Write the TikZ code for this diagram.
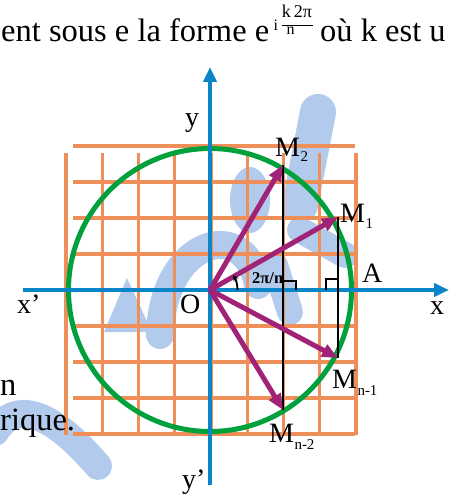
\documentclass[tikz,border=0pt]{standalone}
\usepackage{fontspec}
\setmainfont{Liberation Serif}
\usetikzlibrary{arrows.meta}
\definecolor{gridor}{RGB}{238,143,90}
\definecolor{circgreen}{RGB}{0,160,60}
\definecolor{axisblue}{RGB}{10,133,200}
\definecolor{vecpurple}{RGB}{160,35,120}
\definecolor{wmblue}{RGB}{178,202,236}
\begin{document}
\begin{tikzpicture}[x=1pt,y=-1pt,
  wm/.style={draw=wmblue,line cap=round},
  wmfill/.style={fill=wmblue,draw=none},
  gridline/.style={draw=gridor,line width=3.4pt},
  circ/.style={draw=circgreen,line width=5pt},
  axisline/.style={draw=axisblue,line width=4.2pt,-{Triangle[length=15pt,width=13pt]}},
  blk/.style={draw=black,line width=2pt},
  rightmark/.style={draw=black,line width=1.8pt},
  vec/.style={draw=vecpurple,line width=5pt,-{Triangle[length=16pt,width=13pt]}},
  lab/.style={font=\fontsize{28}{30}\selectfont,inner sep=0pt},
  sublab/.style={font=\fontsize{15}{17}\selectfont,inner sep=0pt},
  body/.style={font=\fontsize{32.5}{36}\selectfont,inner sep=0pt},
  supx/.style={font=\fontsize{16}{18}\selectfont,inner sep=0pt},
  anglab/.style={font=\fontsize{16.5}{18}\selectfont\bfseries,inner sep=0pt}]
\useasboundingbox (0,0) rectangle (452,497);
\clip (0,0) rectangle (452,497);
% watermark (faint background shapes)
\coordinate (wa1) at (-5,432);
\coordinate (wa2) at (98,466);
\draw[wm,line width=28pt] (wa1) .. controls (15,400) and (50,410) .. (wa2);
\coordinate (wb1) at (160,335);
\coordinate (wb2) at (258,285);
\draw[wm,line width=28pt] (wb1) .. controls (162,240) and (245,215) .. (wb2);
\coordinate (wl1) at (127,278);
\coordinate (wl2) at (152,332);
\coordinate (wl3) at (104,332);
\fill[wmfill] (wl1) -- (wl2) -- (wl3) -- cycle;
\coordinate (wd1) at (318,112);
\coordinate (wd2) at (300,205);
\draw[wm,line width=36pt] (wd1) -- (wd2);
\coordinate (we) at (250,200);
\fill[wmfill] (we) ellipse[x radius=20,y radius=33];
\coordinate (wc1) at (300,230);
\coordinate (wc2) at (345,255);
\draw[wm,line width=26pt] (wc1) -- (wc2);
\coordinate (wf1) at (275,265);
\coordinate (wf2) at (290,312);
\draw[wm,line width=26pt] (wf1) -- (wf2);
% grid
\foreach \k in {0,...,8} {
  \draw[gridline] (73,{146+36*\k}) -- (355,{146+36*\k});
  \draw[gridline] ({66+36.25*\k},153) -- ({66+36.25*\k},435);
}
% circle
\coordinate (O) at (210,290);
\draw[circ] (O) circle[radius=141.5];
% axes
\coordinate (xl) at (23,290);
\coordinate (xr) at (449,290);
\coordinate (yt) at (210,67);
\coordinate (yb) at (210,485);
\draw[axisline] (xl) -- (xr);
\draw[axisline] (yb) -- (yt);
% points
\coordinate (M1) at (338,217);
\coordinate (M2) at (283,165);
\coordinate (Mn1) at (338,358);
\coordinate (Mn2) at (283,410);
% vertical black lines
\draw[blk] (M2) -- (Mn2);
\draw[blk] (M1) -- (Mn1);
% right angle marks
\coordinate (ra1) at (283,281);
\coordinate (ra2) at (296,281);
\coordinate (ra3) at (296,290);
\draw[rightmark] (ra1) -- (ra2) -- (ra3);
\coordinate (rb1) at (338,279);
\coordinate (rb2) at (326,279);
\coordinate (rb3) at (326,290);
\draw[rightmark] (rb1) -- (rb2) -- (rb3);
% vectors
\draw[vec] (O) -- (M1);
\draw[vec] (O) -- (M2);
\draw[vec] (O) -- (Mn1);
\draw[vec] (O) -- (Mn2);
% angle arc
\coordinate (arcstart) at (237.5,290);
\draw[line width=1.8pt,-{Stealth[length=6pt,width=6pt]}] (arcstart) arc[start angle=0,end angle=-33,radius=27.5];
\node[anglab,anchor=base west] (ang) at (252,283) {2π/n};
% axis labels
\node[lab,anchor=base west] (ylab) at (185,127) {y};
\node[lab,anchor=base west] (yplab) at (182,488) {y’};
\node[lab,anchor=base west] (xplab) at (17,313) {x’};
\node[lab,anchor=base west] (xlab) at (430,314) {x};
\node[lab,anchor=base west] (Olab) at (180,313) {O};
\node[lab,anchor=base west] (Alab) at (362,282) {A};
% point labels
\node[lab,anchor=base west] (M2lab) at (275,157) {M};
\node[sublab,anchor=base west] (M2sub) at (M2lab.base east) {\raisebox{-5pt}{2}};
\node[lab,anchor=base west] (M1lab) at (340,222) {M};
\node[sublab,anchor=base west] (M1sub) at (M1lab.base east) {\raisebox{-6pt}{1}};
\node[lab,anchor=base west] (Mn1lab) at (332,388) {M};
\node[sublab,anchor=base west] (Mn1sub) at (Mn1lab.base east) {\raisebox{-7pt}{n-1}};
\node[lab,anchor=base west] (Mn2lab) at (269,442) {M};
\node[sublab,anchor=base west] (Mn2sub) at (Mn2lab.base east) {\raisebox{-7pt}{n-2}};
% surrounding text
\node[body,anchor=base west] (t1) at (1,41.7) {ent sous e la forme e};
\node[supx,anchor=base west] (ti) at (273.5,31) {i};
\node[font=\fontsize{18}{20}\selectfont,inner sep=0pt,anchor=base] (tk) at (297,18) {k\,2π};
\coordinate (fb1) at (281.5,25.5);
\coordinate (fb2) at (312.5,25.5);
\draw[line width=1pt] (fb1) -- (fb2);
\node[supx,anchor=base] (tn) at (290.5,35) {n};
\node[body,anchor=base west] (t2) at (320,41.7) {où k est u};
\node[body,anchor=base west] (t3) at (0,395) {n};
\node[body,anchor=base west] (t4) at (0,430) {rique.};
\end{tikzpicture}
\end{document}
